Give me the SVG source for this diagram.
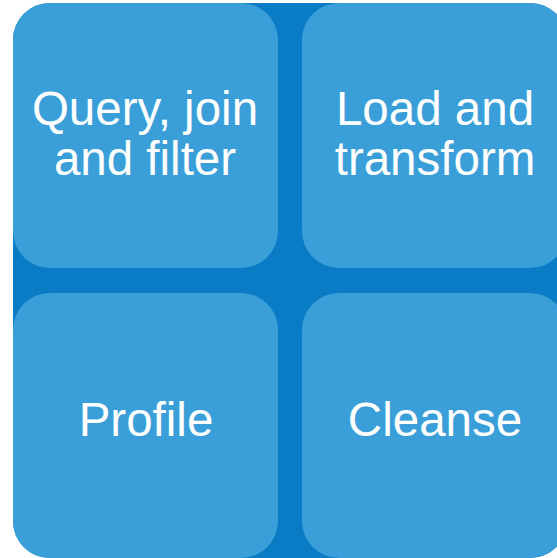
<svg xmlns="http://www.w3.org/2000/svg" width="557" height="558" viewBox="0 0 557 558">
<style>
.tile{fill:#3a9fd9}
.lbl{font-family:"Liberation Sans",Arial,sans-serif;font-size:47.5px;fill:#ffffff;text-anchor:middle}
</style>
<rect width="557" height="558" fill="#ffffff"/>
<rect x="13" y="3" width="554" height="555" rx="37" fill="#0a7bc5"/>
<g id="connectors"/>
<g id="node-query">
<rect class="tile" x="13" y="3" width="265" height="265" rx="37"/>
<text class="lbl" x="145" y="124.5">Query, join</text>
<text class="lbl" x="145" y="175">and filter</text>
</g>
<g id="node-load">
<rect class="tile" x="302" y="3" width="265" height="265" rx="37"/>
<text class="lbl" x="435" y="124.5">Load and</text>
<text class="lbl" x="435" y="175">transform</text>
</g>
<g id="node-profile">
<rect class="tile" x="13" y="293" width="265" height="265" rx="37"/>
<text class="lbl" x="146" y="436">Profile</text>
</g>
<g id="node-cleanse">
<rect class="tile" x="302" y="293" width="265" height="265" rx="37"/>
<text class="lbl" x="435" y="436">Cleanse</text>
</g>
</svg>
